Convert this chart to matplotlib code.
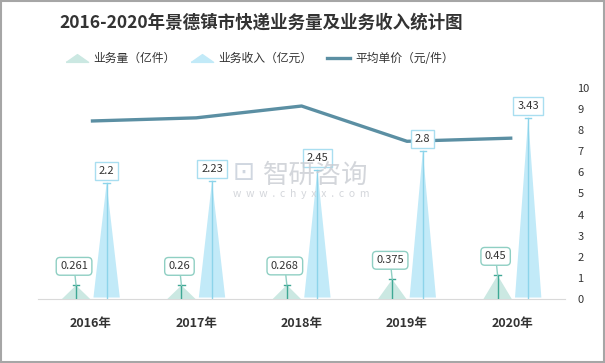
import matplotlib
matplotlib.use('Agg')
import matplotlib.pyplot as plt
from matplotlib.lines import Line2D
from matplotlib.patches import Rectangle
from matplotlib.path import Path

plt.rcParams['font.family'] = ['Noto Sans CJK SC', 'DejaVu Sans']

years = ['2016年', '2017年', '2018年', '2019年', '2020年']
volume = [0.261, 0.26, 0.268, 0.375, 0.45]      # 业务量（亿件）
income = [2.2, 2.23, 2.45, 2.8, 3.43]           # 业务收入（亿元）
price = [8.43, 8.58, 9.14, 7.47, 7.62]          # 平均单价（元/件）
right_ticks = list(range(0, 11))

vol_fill = '#cbe8e2'
vol_line = '#3fa895'
vol_edge = '#8fcfc3'
inc_fill = '#c2eaf8'
inc_line = '#8dd4ea'
inc_edge = '#a9def0'
line_col = '#5b8fa3'

fig = plt.figure(figsize=(6.05, 3.63), dpi=100)
ax = fig.add_axes([0.063, 0.176, 0.871, 0.582])
ax2 = ax.twinx()

# line on the primary axis, ticks shown on the right
x = list(range(len(years)))
ax.plot(x, price, color=line_col, lw=2.4, solid_capstyle='butt', zorder=2)
ax.set_ylim(0, 10)
ax.set_xlim(-0.5, 4.5)
ax.yaxis.tick_right()
ax.set_yticks(right_ticks)
ax.tick_params(axis='y', length=0, pad=9, labelsize=8, labelcolor='#333333')
ax.set_xticks(x)
ax.set_xticklabels(years, fontweight='bold', fontsize=9, color='#333333')
ax.tick_params(axis='x', length=0, pad=13)
for s in ['top', 'left', 'right']:
    ax.spines[s].set_visible(False)
ax.spines['bottom'].set_color('#d9d9d9')

# triangles on the twin axis (hidden scale 0-4)
ax2.set_ylim(0, 4)
ax2.set_yticks([])
for s in ax2.spines.values():
    s.set_visible(False)

off_v, off_i = -0.14, 0.15
hw_v, hw_i = 0.135, 0.125
for i in range(len(years)):
    xv = i + off_v
    xi = i + off_i
    ax2.fill([xv - hw_v, xv, xv + hw_v], [0, volume[i], 0], color=vol_fill, lw=0, zorder=1)
    ax2.plot([xv, xv], [0, volume[i]], color=vol_line, lw=1, zorder=2)
    ax2.plot([xv - 0.03, xv + 0.03], [volume[i], volume[i]], color=vol_line, lw=1, zorder=2)
    ax2.fill([xi - hw_i, xi, xi + hw_i], [0.03, income[i], 0.03], color=inc_fill, lw=0, zorder=1)
    ax2.plot([xi, xi], [0, income[i]], color=inc_line, lw=1, zorder=2)
    ax2.plot([xi - 0.03, xi + 0.03], [income[i], income[i]], color=inc_line, lw=1, zorder=2)

    ax2.annotate(str(volume[i]), xy=(xv, volume[i]), xytext=(-2, 14), textcoords='offset pixels',
                 ha='center', va='bottom', fontsize=8, color='#333333', zorder=5,
                 bbox=dict(boxstyle='round,pad=0.35', fc='white', ec=vol_edge, lw=1),
                 arrowprops=dict(arrowstyle='-', color=vol_edge, lw=1, shrinkA=0, shrinkB=0))
    ax2.annotate(str(income[i]), xy=(xi, income[i]), xytext=(0, 7), textcoords='offset pixels',
                 ha='center', va='bottom', fontsize=8, color='#333333', zorder=5,
                 bbox=dict(boxstyle='square,pad=0.35', fc='white', ec=inc_edge, lw=1))

# title
fig.text(0.432, 0.937, '2016-2020年景德镇市快递业务量及业务收入统计图',
         ha='center', va='center', fontsize=12.6, fontweight='bold', color='#333333')

# legend
flat_tri = Path([(-1, -0.35), (0, 0.35), (1, -0.35), (-1, -0.35)])
handles = [
    Line2D([], [], marker=flat_tri, ls='none', color=vol_fill, markersize=16),
    Line2D([], [], marker=flat_tri, ls='none', color=inc_fill, markersize=16),
    Line2D([], [], color=line_col, lw=2.4),
]
fig.legend(handles, ['业务量（亿件）', '业务收入（亿元）', '平均单价（元/件）'],
           loc='center', bbox_to_anchor=(0.429, 0.838), ncol=3, frameon=False,
           fontsize=8.5, handlelength=2, columnspacing=1.2, handletextpad=0.4,
           labelcolor='#333333')

# watermark
fig.text(0.435, 0.518, '智研咨询', fontsize=19, color='#c9ccd2', ha='left', va='center', alpha=0.8)
fig.text(0.385, 0.465, 'w  w  w  .  c  h  y  x  x  .  c  o  m', fontsize=7.5, color='#c9ccd2',
         ha='left', va='center', alpha=0.8)
fig.text(0.384, 0.525, '⊡', fontsize=19, color='#c5cdd9', ha='left', va='center', alpha=0.8)

# outer border
fig.patches.append(Rectangle((0.001, 0.002), 0.997, 0.996, transform=fig.transFigure,
                             fill=False, ec='#a6a6a6', lw=1.5))

fig.savefig('out.png', dpi=100)
